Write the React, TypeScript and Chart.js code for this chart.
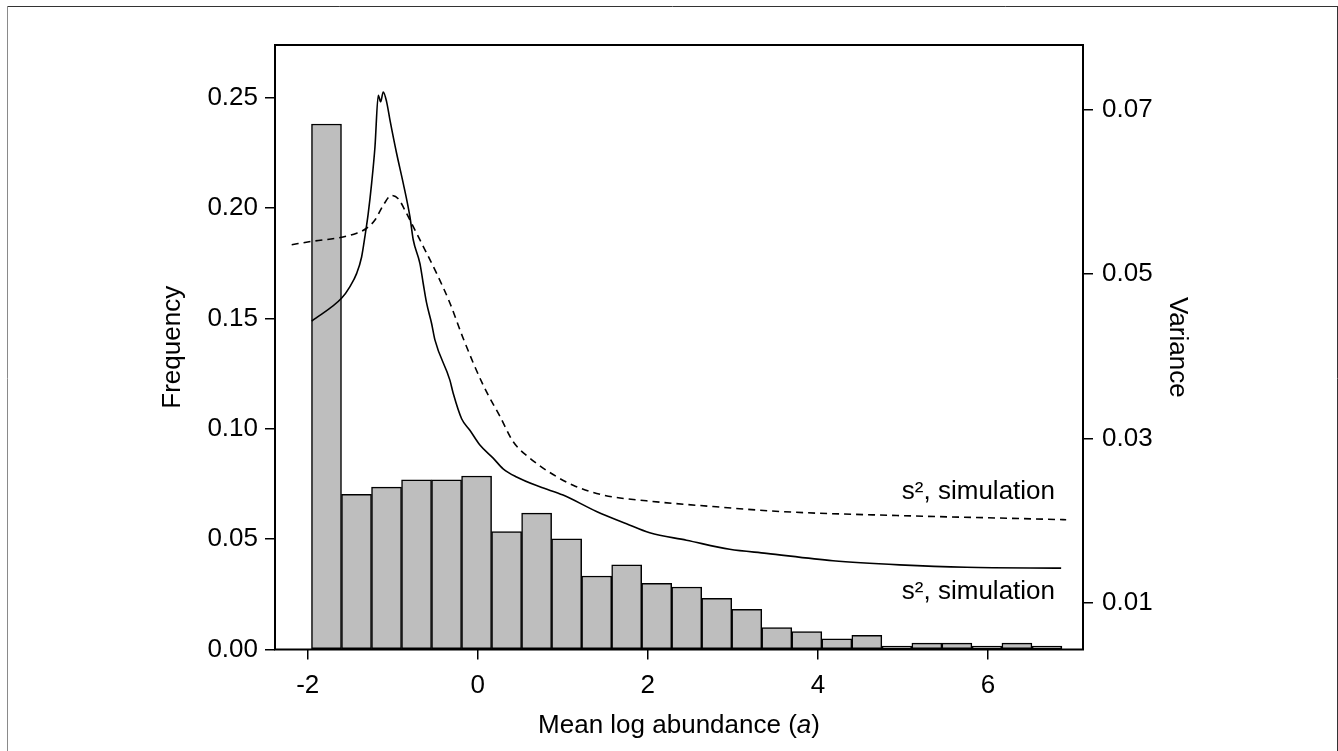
import React, { useEffect, useRef } from "react";
import { Chart, registerables } from "chart.js";

Chart.register(...registerables);

// Histogram (left axis: Frequency)
const binCenters = [-1.779, -1.426, -1.073, -0.72, -0.367, -0.014, 0.339, 0.692, 1.045, 1.398, 1.751, 2.104, 2.457, 2.81, 3.163, 3.516, 3.869, 4.222, 4.575, 4.928, 5.281, 5.634, 5.987, 6.34, 6.693];
const frequencies = [0.2381, 0.0703, 0.0736, 0.0769, 0.0769, 0.0786, 0.0534, 0.0618, 0.0501, 0.0333, 0.0384, 0.03, 0.0283, 0.0232, 0.0182, 0.0099, 0.0081, 0.0048, 0.0064, 0.0015, 0.0029, 0.0029, 0.0015, 0.0029, 0.0015];

// Solid curve (right axis: Variance)
const solidA = [-1.953, -1.6, -1.503, -1.424, -1.366, -1.327, -1.288, -1.248, -1.209, -1.17, -1.142, -1.112, -1.072, -1.033, -0.954, -0.877, -0.798, -0.759, -0.68, -0.642, -0.602, -0.543, -0.504, -0.328, -0.289, -0.19, -0.093, 0.025, 0.181, 0.298, 0.456, 0.73, 1.003, 1.396, 1.749, 2.022, 2.454, 2.962, 3.394, 4.177, 4.96, 5.744, 6.86];
const solidV = [0.0443, 0.0471, 0.0485, 0.0501, 0.0521, 0.0546, 0.0574, 0.0611, 0.0655, 0.0718, 0.071, 0.0722, 0.071, 0.0688, 0.0647, 0.0611, 0.057, 0.0542, 0.0513, 0.0489, 0.0465, 0.044, 0.042, 0.0371, 0.0355, 0.0324, 0.031, 0.0292, 0.0276, 0.0263, 0.0253, 0.0241, 0.0231, 0.0211, 0.0196, 0.0185, 0.0176, 0.0165, 0.016, 0.0151, 0.0146, 0.0143, 0.0142];

// Dashed curve (right axis: Variance)
const dashA = [-2.188, -1.953, -1.6, -1.424, -1.307, -1.209, -1.112, -1.013, -0.935, -0.857, -0.759, -0.642, -0.484, -0.328, -0.172, 0.063, 0.26, 0.416, 0.612, 0.886, 1.121, 1.474, 1.983, 2.766, 3.55, 4.96, 6.135, 6.919];
const dashV = [0.0536, 0.054, 0.0545, 0.055, 0.0556, 0.0566, 0.0584, 0.0596, 0.0592, 0.0578, 0.0558, 0.0534, 0.0501, 0.0465, 0.0422, 0.0365, 0.0327, 0.0296, 0.0276, 0.0256, 0.0243, 0.0231, 0.0224, 0.0217, 0.0211, 0.0206, 0.0203, 0.0201];

// Axes
const xTicks = [-2, 0, 2, 4, 6];
const leftTicks = [0, 0.05, 0.1, 0.15, 0.2, 0.25];
const rightTicks = [0.01, 0.03, 0.05, 0.07];
const xRange = [-2.3845, 7.117];
const leftRange = [0, 0.2739];
const rightRange = [0.00429, 0.07792];

// Annotations
const curveLabels = [
  { text: "s\u00B2, simulation", a: 6.788, v: 0.02262 },
  { text: "s\u00B2, simulation", a: 6.788, v: 0.0104 },
];
const xTitleParts = [
  { text: "Mean log abundance (", italic: false },
  { text: "a", italic: true },
  { text: ")", italic: false },
];

const FONT = '"Liberation Sans", Arial, Helvetica, sans-serif';
const FS = 26;

export default function App() {
  const ref = useRef<HTMLCanvasElement | null>(null);

  useEffect(() => {
    const canvas = ref.current;
    if (!canvas) return;

    const framePlugin = {
      id: "frame",
      beforeDraw(chart: any) {
        const ctx = chart.ctx;
        ctx.save();
        ctx.fillStyle = "#ffffff";
        ctx.fillRect(0, 0, chart.width, chart.height);
        ctx.lineWidth = 1;
        ctx.strokeStyle = "#333333";
        ctx.beginPath();
        ctx.moveTo(7, 6.5);
        ctx.lineTo(1338, 6.5);
        ctx.moveTo(1337.5, 6);
        ctx.lineTo(1337.5, 751);
        ctx.stroke();
        ctx.strokeStyle = "#8a8a8a";
        ctx.beginPath();
        ctx.moveTo(7.5, 6);
        ctx.lineTo(7.5, 751);
        ctx.stroke();
        ctx.restore();
      },
      afterDraw(chart: any) {
        const ctx = chart.ctx;
        const { left, top, right, bottom } = chart.chartArea;
        ctx.save();
        ctx.strokeStyle = "#000";
        ctx.lineWidth = 2;
        ctx.strokeRect(left, top, right - left, bottom - top);

        // curve labels
        const xs = chart.scales.x;
        const ys = chart.scales.y2;
        ctx.fillStyle = "#000";
        ctx.font = `${FS}px ${FONT}`;
        ctx.textAlign = "right";
        ctx.textBaseline = "alphabetic";
        for (const l of curveLabels) {
          ctx.fillText(l.text, xs.getPixelForValue(l.a), ys.getPixelForValue(l.v));
        }

        // x title with italic "a"
        ctx.textAlign = "left";
        const widths = xTitleParts.map((p) => {
          ctx.font = `${p.italic ? "italic " : ""}${FS}px ${FONT}`;
          return ctx.measureText(p.text).width;
        });
        const total = widths.reduce((s, w) => s + w, 0);
        let x = (left + right) / 2 - total / 2;
        const y = 733;
        xTitleParts.forEach((p, i) => {
          ctx.font = `${p.italic ? "italic " : ""}${FS}px ${FONT}`;
          ctx.fillText(p.text, x, y);
          x += widths[i];
        });
        ctx.restore();
      },
    };

    const tickGrid = {
      display: true,
      drawOnChartArea: false,
      drawTicks: true,
      tickLength: 10,
      color: "#000",
      lineWidth: 1.5,
      offset: false,
    };

    const chart = new Chart(canvas, {
      type: "bar",
      data: {
        datasets: [
          {
            type: "line",
            label: "dashed",
            data: dashA.map((a, i) => ({ x: a, y: dashV[i] })),
            yAxisID: "y2",
            borderColor: "#000",
            borderWidth: 1.6,
            borderDash: [7, 5],
            pointRadius: 0,
            cubicInterpolationMode: "monotone",
            fill: false,
            order: 1,
          } as any,
          {
            type: "line",
            label: "solid",
            data: solidA.map((a, i) => ({ x: a, y: solidV[i] })),
            yAxisID: "y2",
            borderColor: "#000",
            borderWidth: 1.6,
            pointRadius: 0,
            cubicInterpolationMode: "monotone",
            fill: false,
            order: 1,
          } as any,
          {
            type: "bar",
            label: "Frequency",
            data: binCenters.map((c, i) => ({ x: c, y: frequencies[i] })),
            yAxisID: "y",
            backgroundColor: "#bebebe",
            borderColor: "#000",
            borderWidth: 1.5,
            borderSkipped: false,
            barPercentage: 1,
            categoryPercentage: 1,
            order: 3,
          } as any,
        ],
      },
      options: {
        responsive: false,
        animation: false,
        devicePixelRatio: 1,
        layout: { padding: { top: 45, left: 0, right: 0, bottom: 0 } },
        plugins: {
          legend: { display: false },
          tooltip: { enabled: false },
        },
        scales: {
          x: {
            type: "linear",
            offset: false,
            min: xRange[0],
            max: xRange[1],
            grid: tickGrid,
            border: { display: false },
            afterBuildTicks: (s: any) => {
              s.ticks = xTicks.map((v) => ({ value: v }));
            },
            afterFit: (s: any) => {
              s.height = 101.5;
            },
            ticks: {
              autoSkip: false,
              maxRotation: 0,
              padding: 11,
              color: "#000",
              font: { family: FONT, size: FS },
              callback: (v: any) => String(v),
            },
          },
          y: {
            type: "linear",
            position: "left",
            min: leftRange[0],
            max: leftRange[1],
            grid: tickGrid,
            border: { display: false },
            afterBuildTicks: (s: any) => {
              s.ticks = leftTicks.map((v) => ({ value: v }));
            },
            afterFit: (s: any) => {
              s.width = 275;
            },
            ticks: {
              autoSkip: false,
              padding: 7,
              color: "#000",
              font: { family: FONT, size: FS },
              callback: (v: any) => Number(v).toFixed(2),
            },
            title: {
              display: true,
              text: "Frequency",
              color: "#000",
              font: { family: FONT, size: FS },
              padding: { top: 157, bottom: 0 },
            },
          },
          y2: {
            type: "linear",
            position: "right",
            min: rightRange[0],
            max: rightRange[1],
            grid: tickGrid,
            border: { display: false },
            afterBuildTicks: (s: any) => {
              s.ticks = rightTicks.map((v) => ({ value: v }));
            },
            afterFit: (s: any) => {
              s.width = 255;
            },
            ticks: {
              autoSkip: false,
              padding: 9,
              color: "#000",
              font: { family: FONT, size: FS },
              callback: (v: any) => Number(v).toFixed(2),
            },
            title: {
              display: true,
              text: "Variance",
              color: "#000",
              font: { family: FONT, size: FS },
              padding: { top: 145, bottom: 0 },
            },
          },
        },
      } as any,
      plugins: [framePlugin],
    });

    return () => chart.destroy();
  }, []);

  return (
    <div style={{ position: "fixed", left: 0, top: 0, width: 1338, height: 751, background: "#fff" }}>
      <canvas ref={ref} width={1338} height={751} style={{ width: 1338, height: 751, display: "block" }} />
    </div>
  );
}
